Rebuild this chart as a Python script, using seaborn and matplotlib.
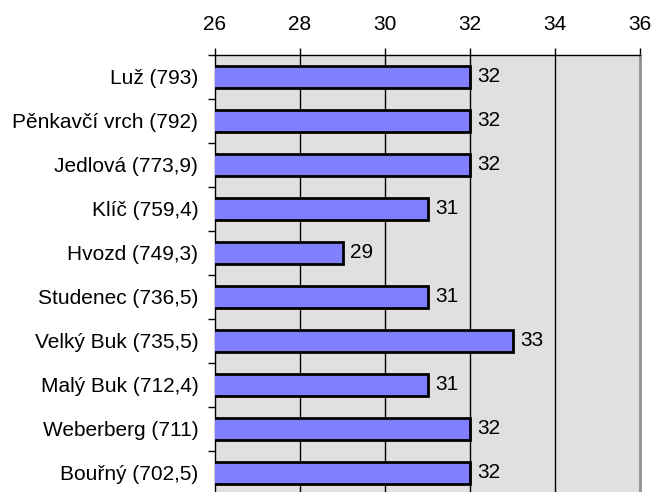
import matplotlib
matplotlib.use("Agg")
import matplotlib.pyplot as plt
import seaborn as sns
import pandas as pd
import numpy as np

categories = ["Luž (793)", "Pěnkavčí vrch (792)", "Jedlová (773,9)", "Klíč (759,4)",
              "Hvozd (749,3)", "Studenec (736,5)", "Velký Buk (735,5)", "Malý Buk (712,4)",
              "Weberberg (711)", "Bouřný (702,5)"]
values = [32, 32, 32, 31, 29, 31, 33, 31, 32, 32]
x_ticks = [26, 28, 30, 32, 34, 36]

sns.set_theme(style="white")
plt.rcParams['font.family'] = ['Liberation Sans', 'DejaVu Sans']
plt.rcParams['text.color'] = 'black'
plt.rcParams['xtick.color'] = 'black'
plt.rcParams['ytick.color'] = 'black'

FS = 15

df = pd.DataFrame({"cat": categories, "val": values})

fig = plt.figure(figsize=(6.53, 4.92), dpi=100)
ax = fig.add_axes([215/653, 1-495/492, (640-215)/653, 440/492])
ax.set_facecolor("#e0e0e0")

sns.barplot(data=df, x="val", y="cat", orient="h", color="#8080ff",
            saturation=1, width=0.5, edgecolor="black", linewidth=2, ax=ax, zorder=3)

ax.set_xlim(26, 36)
ax.set_ylim(len(categories) - 0.5, -0.5)
ax.set_xticks(x_ticks)
ax.set_xticklabels([str(t) for t in x_ticks], fontsize=FS)
ax.xaxis.tick_top()
ax.tick_params(axis="x", which="both", direction="out", length=5, width=1, color="black",
               pad=10, top=True, bottom=False, labeltop=True, labelbottom=False)
ax.set_xlabel("")
ax.set_ylabel("")

ax.set_yticks(range(len(categories)))
ax.set_yticklabels(categories, fontsize=FS)
ax.tick_params(axis="y", which="major", length=0, pad=12)
ax.set_yticks(np.arange(-0.5, len(categories), 1), minor=True)
ax.tick_params(axis="y", which="minor", direction="out", length=5, width=1, color="black", left=True)

for x in x_ticks[1:-1]:
    ax.axvline(x, color="black", linewidth=1, zorder=1)

for i, v in enumerate(values):
    ax.text(v + 0.18, i, str(v), va="center", ha="left", fontsize=FS, zorder=4)

for s in ["top", "left"]:
    ax.spines[s].set_visible(True)
    ax.spines[s].set_color("black")
    ax.spines[s].set_linewidth(1)
ax.spines["right"].set_visible(True)
ax.spines["right"].set_color("#909090")
ax.spines["right"].set_linewidth(2)
ax.spines["bottom"].set_visible(False)

fig.savefig("out.png", dpi=100)
